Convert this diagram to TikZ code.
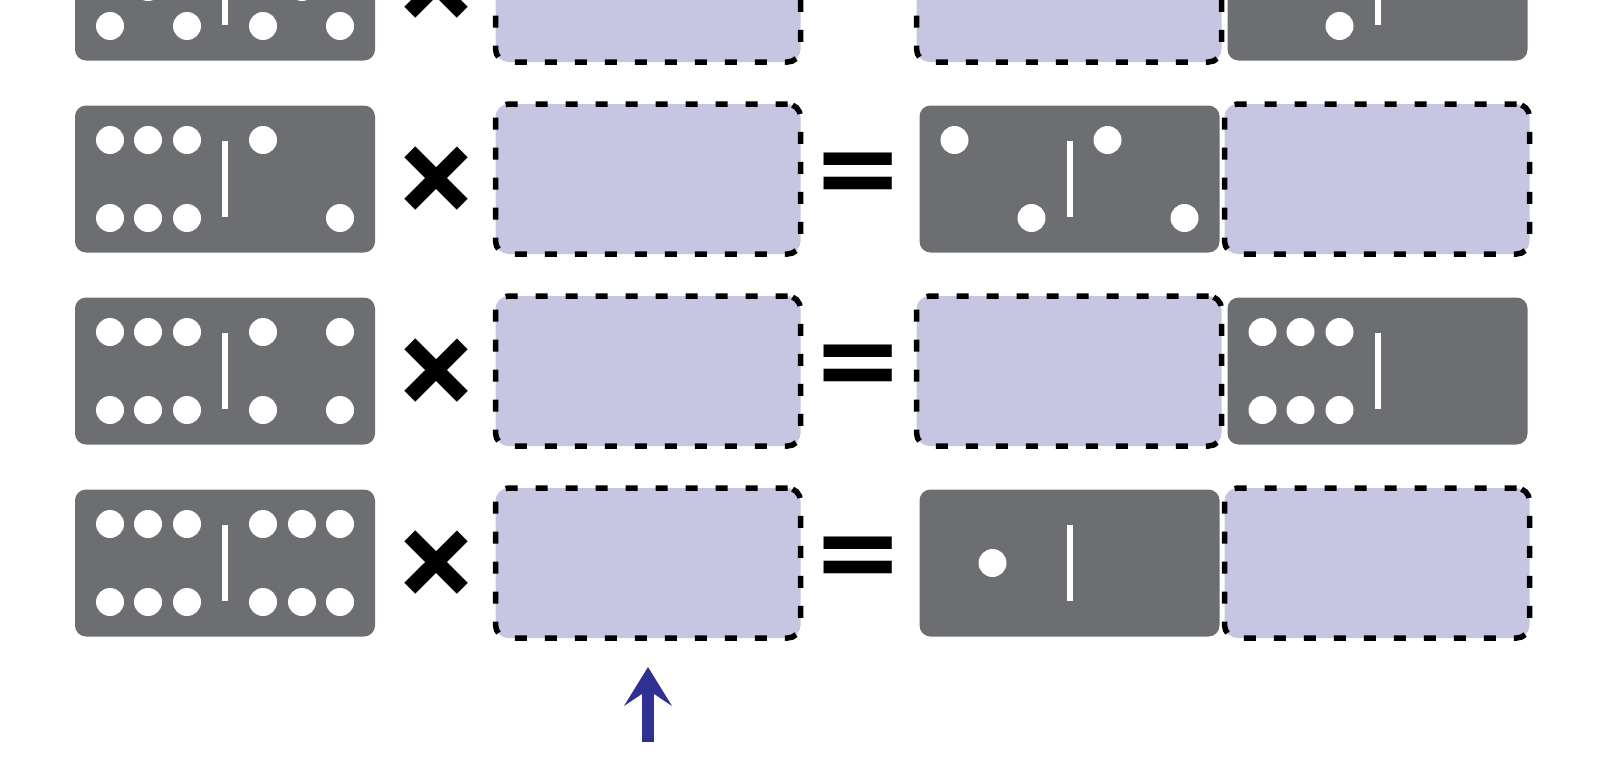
\documentclass[tikz,border=0pt]{standalone}
\usepackage{fontspec}
\newfontfamily\opfont{DejaVu Sans}
\usepackage{tikz}
\usetikzlibrary{arrows.meta,positioning}
\definecolor{tilegray}{HTML}{6D6E71}
\definecolor{slotblue}{HTML}{C6C5E2}
\definecolor{arrowblue}{HTML}{2E3192}
\tikzset{
    %Define style for domino tiles
    tile/.style={
           rectangle,
           rounded corners=0.11cm,
           fill=tilegray,
           minimum width=3cm,
           minimum height=1.47cm,
           outer sep=0pt},
    %Define style for empty slots
    slot/.style={
           rectangle,
           rounded corners=0.13cm,
           fill=slotblue,
           draw=black, line width=0.055cm,
           dash pattern=on 0.12cm off 0.18cm,
           minimum width=3.05cm,
           minimum height=1.5cm,
           outer sep=0pt},
    pip/.style={fill=white},
    bar/.style={draw=white, line width=0.06cm},
    %Define style for the signs
    op/.style={
           inner sep=0pt,
           font=\opfont\bfseries\fontsize{31pt}{31pt}\selectfont},
    timesop/.style={
           op,
           font=\opfont\bfseries\fontsize{28pt}{28pt}\selectfont},
    % Define arrow style
    pil/.style={
           -{Stealth[length=11pt,width=13.5pt,inset=4.5pt]},
           draw=arrowblue,
           fill=arrowblue,
           line width=0.115cm}
}
% heavier times sign (outlined glyph)
\newcommand{\heavytimes}{\special{pdf:literal direct 2 Tr 1.1 w}×\special{pdf:literal direct 0 Tr}}
% tile with middle bar and pips (offsets from the centre)
\newcommand{\domino}[3]{%
  \node[tile] (#1) at #2 {};
  \draw[bar] ([yshift=0.38cm]#1.center) -- ([yshift=-0.38cm]#1.center);
  \foreach \px/\py in {#3}
    \fill[pip] ([shift={(\px,\py)}]#1.center) circle (0.14);
}
\begin{document}
\begin{tikzpicture}
\useasboundingbox (0,0) rectangle (16,-7.68);
\clip (0,0) rectangle (16,-7.68);
\fill[white] (0,0) rectangle (16,-7.68);

 %left column
\domino{l1}{(2.25,0.13)}{-1.15/0.39,-0.38/0.39,-0.77/0,-1.15/-0.39,-0.38/-0.39,
  0.38/0.39,1.15/0.39,0.77/0,0.38/-0.39,1.15/-0.39}
\domino{l2}{(2.25,-1.79)}{-1.15/0.39,-0.77/0.39,-0.38/0.39,-1.15/-0.39,-0.77/-0.39,-0.38/-0.39,
  0.38/0.39,1.15/-0.39}
\domino{l3}{(2.25,-3.71)}{-1.15/0.39,-0.77/0.39,-0.38/0.39,-1.15/-0.39,-0.77/-0.39,-0.38/-0.39,
  0.38/0.39,1.15/0.39,0.38/-0.39,1.15/-0.39}
\domino{l4}{(2.25,-5.63)}{-1.15/0.39,-0.77/0.39,-0.38/0.39,-1.15/-0.39,-0.77/-0.39,-0.38/-0.39,
  0.38/0.39,0.77/0.39,1.15/0.39,0.38/-0.39,0.77/-0.39,1.15/-0.39}

 %signs and middle slots
\foreach \r/\y in {1/0.13,2/-1.79,3/-3.71,4/-5.63}{
  \node[timesop] (x\r) at (4.36,\y) {\heavytimes};
  \node[slot] (s\r) at (6.48,\y) {};
  \node[op] (e\r) at (8.58,\y) {=};
}

 %results
\node[slot] (a1) at (10.69,0.13) {};
\domino{b1}{(13.775,0.13)}{-1.15/0.39,-0.38/-0.39}
\domino{a2}{(10.695,-1.79)}{-1.15/0.39,-0.38/-0.39,0.38/0.39,1.15/-0.39}
\node[slot] (b2) at (13.77,-1.79) {};
\node[slot] (a3) at (10.69,-3.71) {};
\domino{b3}{(13.775,-3.71)}{-1.15/0.39,-0.77/0.39,-0.38/0.39,-1.15/-0.39,-0.77/-0.39,-0.38/-0.39}
\domino{a4}{(10.695,-5.63)}{-0.77/0}
\node[slot] (b4) at (13.77,-5.63) {};

 %arrow
\coordinate[below=0.29cm of s4] (tip);
\coordinate[below=0.75cm of tip] (tail);
\draw[pil] (tail) -- (tip);

\end{tikzpicture}
\end{document}
